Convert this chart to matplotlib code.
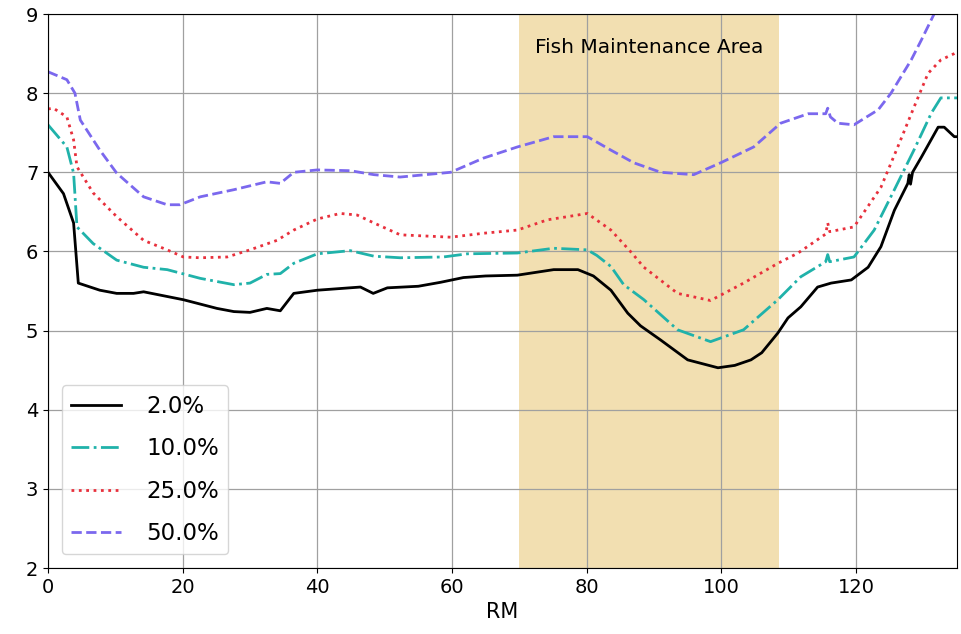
import matplotlib
matplotlib.use("Agg")
import matplotlib.pyplot as plt

# ---- data ----
x_2 = [0, 2.3, 3.8, 4.5, 7.7, 10.2, 12.7, 14.2, 20.1, 25.1, 27.6, 30, 32.5, 34.5,
       36.5, 40, 46.4, 48.3, 50.4, 55, 58.3, 61.7, 65, 69.7, 75.1, 78.7, 81, 83.6,
       86.1, 88, 91, 95, 99.5, 102, 104.4, 106, 108.4, 109.9, 111.8, 114.3, 116.3,
       119.3, 121.8, 123.7, 125.7, 127.7, 127.9, 128.1, 128.4, 129.7, 132.2, 133.1,
       134.6, 135]
y_2 = [7.0, 6.73, 6.36, 5.6, 5.51, 5.47, 5.47, 5.49, 5.39, 5.28, 5.24, 5.23, 5.28, 5.25,
       5.47, 5.51, 5.55, 5.47, 5.54, 5.56, 5.61, 5.67, 5.69, 5.7, 5.77, 5.77, 5.69, 5.51,
       5.22, 5.06, 4.88, 4.63, 4.53, 4.56, 4.63, 4.72, 4.97, 5.16, 5.3, 5.55, 5.6,
       5.64, 5.8, 6.06, 6.52, 6.86, 6.97, 6.85, 7.0, 7.19, 7.57, 7.57,
       7.45, 7.45]

x_10 = [0, 2.8, 3.8, 4.3, 6.7, 10.2, 14.2, 17.7, 22.6, 27.6, 30, 32.5, 34.5, 36.5, 40,
        44.9, 48.4, 52.3, 58.7, 62.3, 69.7, 75.1, 80.1, 81.5, 83.6, 85.5, 88.5, 93.5,
        98.4, 103.3, 108.4, 111.8, 115.5, 115.8, 116.1, 119.7, 122.7, 125.7, 128.6,
        131.2, 132.6, 135]
y_10 = [7.6, 7.32, 6.99, 6.31, 6.1, 5.89, 5.8, 5.77, 5.66, 5.58, 5.6, 5.71, 5.72, 5.85, 5.97,
        6.01, 5.94, 5.92, 5.93, 5.97, 5.98, 6.04, 6.02, 5.95, 5.81, 5.58, 5.39, 5.01,
        4.86, 5.01, 5.39, 5.68, 5.87, 5.96, 5.87, 5.93, 6.27, 6.78, 7.28,
        7.75, 7.94, 7.94]

x_25 = [0, 0.8, 2.8, 3.8, 4.3, 6.7, 10.2, 14.2, 17.7, 20.1, 22.6, 26.6, 30, 34, 36.5, 40,
        43.4, 45.9, 48.4, 52.3, 59.8, 64.7, 69.7, 74.2, 77.2, 80.1, 83.6, 86.5, 88.5,
        93.5, 98.4, 103.3, 108.4, 111.4, 115.5, 115.8, 116.1, 119.7, 123.7, 126.2,
        128.6, 130.7, 132.6, 134.6, 135]
y_25 = [7.8, 7.81, 7.7, 7.41, 7.07, 6.74, 6.44, 6.14, 6.02, 5.93, 5.92, 5.93, 6.02, 6.14, 6.27, 6.41,
        6.48, 6.46, 6.36, 6.21, 6.18, 6.23, 6.27, 6.4, 6.44, 6.48, 6.27, 6.0, 5.8,
        5.47, 5.38, 5.6, 5.85, 5.98, 6.22, 6.36, 6.25, 6.31, 6.81, 7.32,
        7.82, 8.25, 8.42, 8.5, 8.52]

x_50 = [0, 2.8, 4.0, 4.8, 7.7, 10.2, 14.2, 17.7, 19.6, 22.6, 27.6, 32.5, 34.5, 36.5, 40,
        44.9, 48.4, 52.3, 59.8, 64.7, 69.7, 75.1, 80.1, 83.6, 87, 91, 95.9, 99.9, 104.8,
        108.8, 112.9, 115.5, 115.8, 116.2, 117.3, 119.7, 123.3, 125.2, 128.2, 129.7,
        131.6, 132.5]
y_50 = [8.27, 8.17, 8.0, 7.66, 7.28, 6.99, 6.69, 6.59, 6.59, 6.69, 6.78, 6.88, 6.86, 7.0, 7.03,
        7.02, 6.97, 6.94, 7.0, 7.18, 7.32, 7.45, 7.45, 7.28, 7.12, 7.0, 6.97, 7.12, 7.32,
        7.62, 7.74, 7.74, 7.81, 7.7, 7.62, 7.6, 7.79, 8.0, 8.42, 8.67,
        9.0, 9.15]

labels = ["2.0%", "10.0%", "25.0%", "50.0%"]
area_start, area_end = 70, 108.5
area_label = "Fish Maintenance Area"

# ---- plot ----
fig = plt.figure(figsize=(9.62, 6.34), dpi=100)
ax = fig.add_axes([0.0499, 0.1041, 0.9449, 0.8738])

ax.axvspan(area_start, area_end, color="goldenrod", alpha=0.35, lw=0, zorder=0)
ax.plot(x_2, y_2, color="black", ls="-", lw=2, label=labels[0])
ax.plot(x_10, y_10, color="lightseagreen", ls="-.", lw=2, label=labels[1])
ax.plot(x_25, y_25, color="#e8303c", ls=":", lw=2, label=labels[2])
ax.plot(x_50, y_50, color="mediumslateblue", ls="--", lw=2, label=labels[3])

ax.text((area_start + area_end) / 2, 8.58, area_label, ha="center", va="center", fontsize=14.5)

ax.set_xlim(0, 135)
ax.set_ylim(2, 9)
ax.set_xticks([0, 20, 40, 60, 80, 100, 120])
ax.set_yticks([2, 3, 4, 5, 6, 7, 8, 9])
ax.tick_params(labelsize=14)
ax.grid(True, color="#a0a0a0", lw=0.9)
ax.set_axisbelow(True)
ax.set_xlabel("RM", fontsize=15, labelpad=4)
ax.legend(loc="lower left", fontsize=16.5, framealpha=0.8, labelspacing=0.85,
          handlelength=2.2, handletextpad=1.1, borderaxespad=0.6)

fig.savefig("out.png", dpi=100)
